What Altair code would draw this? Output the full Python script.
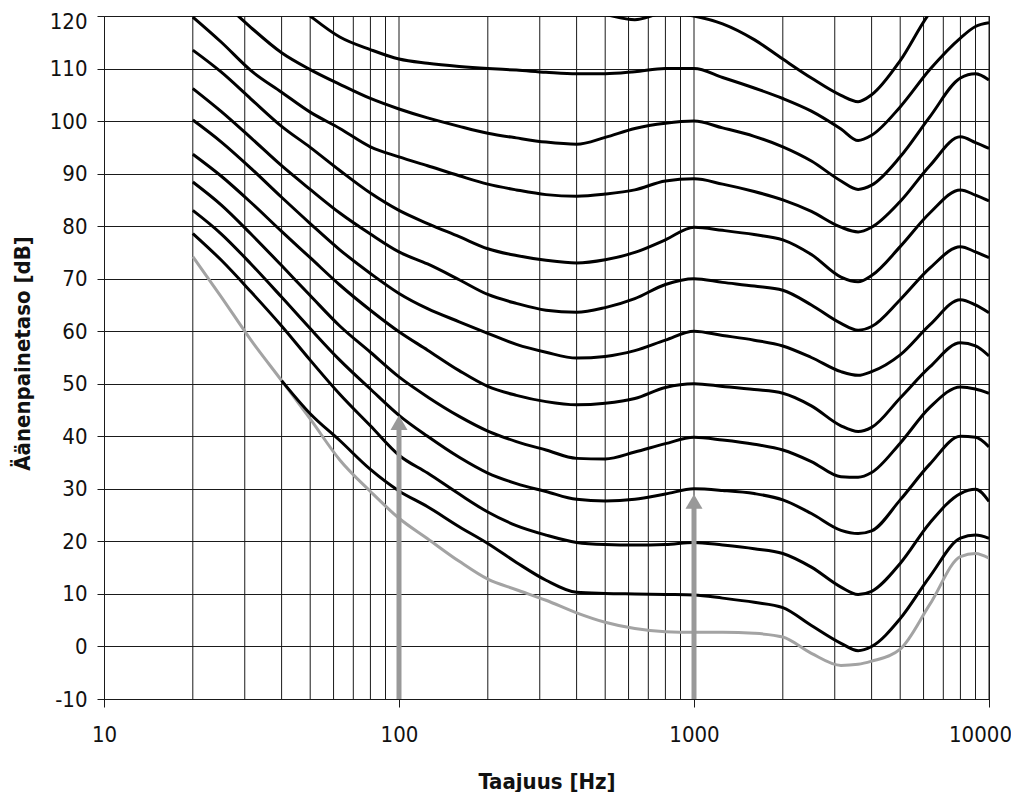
import altair as alt
import pandas as pd

# ---- data ----
freqs = [20, 25, 31.5, 40, 50, 63, 80, 100, 125, 160, 200, 250, 315, 400, 500, 630, 800,
         1000, 1250, 1600, 2000, 2500, 3150, 3600, 4000, 5000, 6300, 8000, 9000, 10000]

N = None
p120 = [N, N, N, N, N, N, N, N, N, N, N, N, N, 121.5, 120.3, 119.3, 120.6,
        120.0, 118.5, 115.5, 111.8, 108.2, 104.9, 103.7, 105.0, 111.5, 120.6, 126.0, N, N]
p110 = [N, N, N, 124.5, 120.0, 116.0, 113.6, 111.8, 111.0, 110.4, 110.0, 109.7, 109.3, 109.0, 109.0, 109.4, 110.0,
        110.0, 108.3, 106.3, 104.3, 101.9, 98.5, 96.3, 97.3, 102.7, 109.8, 115.8, 118.0, 118.7]
p100 = [N, 123.0, 117.8, 113.0, 109.8, 107.0, 104.3, 102.3, 100.6, 99.0, 97.7, 96.8, 96.0, 95.6, 96.9, 98.6, 99.6,
        100.0, 98.7, 97.1, 95.1, 92.4, 88.6, 87.0, 87.8, 93.2, 100.8, 108.2, 109.0, 107.8]
p90 = [119.8, 115.0, 109.6, 105.5, 101.7, 98.6, 95.1, 93.2, 91.5, 89.6, 88.0, 86.9, 86.0, 85.7, 86.1, 86.9, 88.6,
       89.0, 88.0, 86.6, 85.0, 82.8, 79.8, 78.9, 79.8, 84.7, 91.5, 97.0, 95.9, 94.8]
p80 = [113.5, 109.3, 104.2, 99.0, 95.0, 90.6, 86.3, 83.0, 80.5, 78.0, 75.7, 74.4, 73.5, 73.0, 73.6, 75.0, 77.4,
       79.8, 79.2, 78.4, 77.4, 74.6, 70.3, 69.4, 70.6, 76.1, 82.5, 86.9, 85.9, 84.8]
p70 = [106.2, 101.8, 96.8, 91.5, 87.0, 82.5, 78.5, 75.1, 72.8, 69.8, 67.0, 65.3, 64.0, 63.6, 64.5, 66.2, 68.9,
       70.0, 69.3, 68.6, 67.8, 65.0, 61.5, 60.2, 60.9, 66.0, 72.0, 76.1, 75.1, 74.0]
p60 = [100.2, 96.0, 91.0, 85.5, 80.5, 75.5, 71.0, 67.2, 64.3, 61.8, 59.6, 57.5, 56.0, 54.9, 55.2, 56.3, 58.3,
       60.0, 59.2, 58.3, 57.2, 55.0, 52.3, 51.6, 52.3, 55.5, 61.2, 66.0, 65.0, 63.5]
p50 = [93.7, 89.5, 84.5, 79.0, 74.0, 68.8, 64.0, 59.9, 56.4, 52.5, 49.5, 47.8, 46.6, 46.0, 46.3, 47.2, 49.3,
       50.0, 49.5, 48.9, 48.2, 45.8, 42.0, 40.9, 41.7, 47.3, 53.2, 57.8, 57.2, 55.3]
p40 = [88.4, 84.0, 78.5, 72.5, 66.8, 61.0, 56.0, 51.3, 47.5, 43.8, 41.0, 39.0, 37.4, 35.8, 35.7, 37.0, 38.6,
       39.8, 39.3, 38.5, 37.4, 35.2, 32.3, 32.2, 33.1, 38.7, 45.5, 49.4, 49.0, 48.2]
p30 = [83.0, 78.5, 72.8, 66.5, 60.5, 54.5, 49.0, 44.0, 40.0, 36.0, 33.0, 31.0, 29.5, 28.0, 27.7, 28.0, 29.0,
       30.0, 29.7, 29.1, 27.9, 25.3, 22.1, 21.5, 22.0, 27.9, 34.7, 40.0, 39.8, 38.0]
p20 = [78.6, 73.5, 67.5, 61.0, 54.5, 48.0, 42.0, 36.4, 33.0, 29.0, 25.6, 23.0, 21.2, 19.8, 19.4, 19.3, 19.4,
       19.8, 19.3, 18.6, 17.7, 15.1, 11.3, 9.9, 10.5, 15.8, 23.5, 29.1, 29.9, 27.6]
p10 = [N, N, N, 50.6, 44.3, 39.2, 33.7, 29.6, 26.6, 22.8, 19.6, 16.0, 12.6, 10.3, 10.1, 10.0, 9.9,
       9.8, 9.2, 8.4, 7.4, 4.0, 0.6, -0.8, 0.0, 5.3, 13.3, 20.6, 21.2, 20.6]
threshold = [74.2, 66.5, 58.3, 50.6, 43.3, 35.5, 29.5, 24.4, 20.5, 16.2, 12.8, 10.8, 8.8, 6.4, 4.6, 3.4, 2.8,
             2.7, 2.7, 2.5, 1.8, -1.3, -3.6, -3.4, -2.8, -0.5, 8.0, 17.1, 17.7, 16.8]

curve_names = ["120", "110", "100", "90", "80", "70", "60", "50", "40", "30", "20", "10"]
curve_values = [p120, p110, p100, p90, p80, p70, p60, p50, p40, p30, p20, p10]

grid_freqs = [20, 30, 40, 50, 60, 70, 80, 90, 100, 200, 300, 400, 500, 600, 700, 800, 900,
              1000, 2000, 3000, 4000, 5000, 6000, 7000, 8000, 9000, 10000]
x_label_values = [10, 100, 1000, 10000]
y_tick_values = [-10, 0, 10, 20, 30, 40, 50, 60, 70, 80, 90, 100, 110, 120]

arrow_freqs = [100, 1000]
arrow_tips = [44, 29]
arrow_bases = [-10, -10]

# ---- tables ----
rows = []
for name, vals in zip(curve_names, curve_values):
    for f, v in zip(freqs, vals):
        if v is not None:
            rows.append({"f": f, "db": v, "curve": name})
curves_df = pd.DataFrame(rows)
thr_df = pd.DataFrame({"f": freqs, "db": threshold})
grid_df = pd.DataFrame({"f": grid_freqs})
arrow_df = pd.DataFrame({"f": arrow_freqs, "db": arrow_tips, "base": arrow_bases})

W, H = 885, 683
FONT = "Liberation Sans Narrow, Arial Narrow, DejaVu Sans Condensed, sans-serif"
INK = "#1a1a1a"
GRAY = "#a3a3a3"

xscale = alt.Scale(type="log", domain=[10, 10000], nice=False)
yscale = alt.Scale(domain=[-10, 120], nice=False, zero=False)

x_axis = alt.Axis(values=x_label_values, grid=False, tickSize=8, tickColor=INK, tickWidth=1,
                  domainColor=INK, domainWidth=1, labelFont=FONT, labelFontSize=22,
                  labelColor="#111111", labelPadding=17, labelFlush=False,
                  labelOffset={"condition": {"test": "datum.value >= 10000", "value": -9}, "value": 0},
                  labelExpr="'' + datum.value",
                  title="Taajuus [Hz]", titleFont=FONT, titleFontSize=22, titleFontWeight="bold",
                  titleColor="#111111", titleY=82, titleBaseline="middle")
y_axis = alt.Axis(values=y_tick_values, grid=True, gridColor=INK, gridWidth=1, gridOpacity=1,
                  tickSize=7, tickColor=INK, tickWidth=1, domainColor=INK, domainWidth=1,
                  labelFont=FONT, labelFontSize=22, labelColor="#111111", labelPadding=10,
                  labelOffset={"condition": {"test": "datum.value >= 120", "value": 5}, "value": 0},
                  labelExpr="'' + datum.value",
                  title="Äänenpainetaso [dB]", titleFont=FONT, titleFontSize=22,
                  titleFontWeight="bold", titleColor="#111111", titleX=-82, titleY=337,
                  titleBaseline="middle", titleAngle=-90)

X = alt.X("f:Q", scale=xscale, axis=x_axis)
Y = alt.Y("db:Q", scale=yscale, axis=y_axis)

vgrid = alt.Chart(grid_df).mark_rule(color=INK, strokeWidth=1).encode(
    x=X, y=alt.value(0), y2=alt.value(H))

thr_line = alt.Chart(thr_df).mark_line(color=GRAY, strokeWidth=3, interpolate="monotone",
                                       clip=True).encode(x=X, y=Y)

lines = alt.Chart(curves_df).mark_line(color="black", strokeWidth=3, interpolate="monotone",
                                       clip=True).encode(x=X, y=Y, detail="curve:N")

shafts = alt.Chart(arrow_df).mark_rule(color="#999999", strokeWidth=5, y2Offset=8).encode(
    x=X, y=alt.Y("base:Q", scale=yscale, axis=y_axis), y2="db:Q")

heads = alt.Chart(arrow_df).mark_point(shape="triangle-up", filled=True, size=290, opacity=1,
                                       color="#999999", yOffset=7.4).encode(x=X, y=Y)

chart = alt.layer(vgrid, thr_line, lines, shafts, heads).properties(
    width=W, height=H,
    padding={"left": 96, "top": 8, "right": 22, "bottom": 93},
    autosize=alt.AutoSizeParams(type="none"),
    background="white",
).configure_view(stroke=INK, strokeWidth=1)

chart.save("out.html", embed_options={"renderer": "svg", "actions": False})
